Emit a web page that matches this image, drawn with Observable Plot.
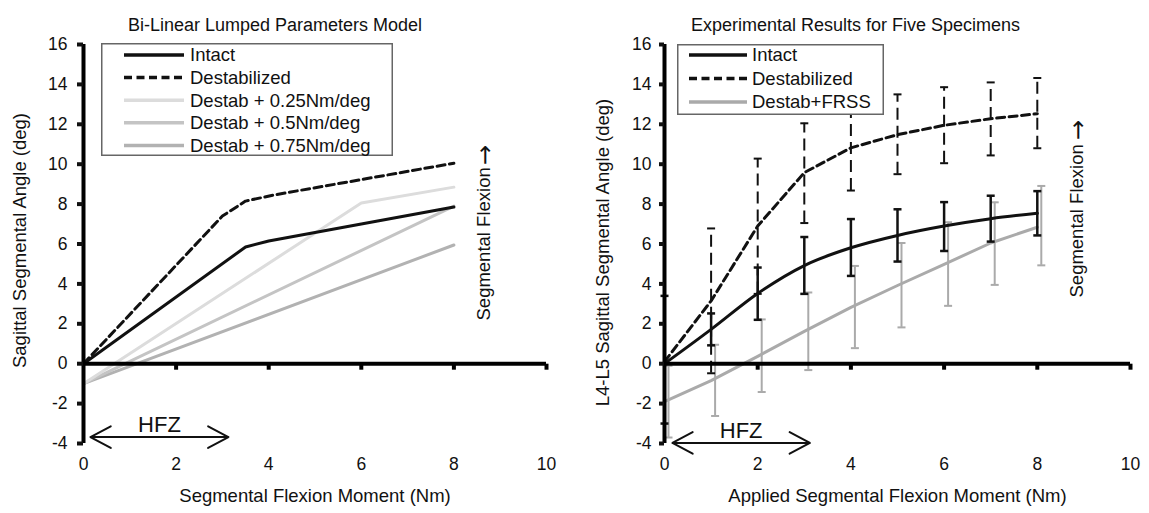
<!DOCTYPE html>
<html>
<head>
<meta charset="utf-8">
<script src="https://cdn.jsdelivr.net/npm/d3@7"></script>
<script src="https://cdn.jsdelivr.net/npm/@observablehq/plot@0.6"></script>
<style>
  body { margin: 0; background: #fff; }
  #wrap { position: relative; width: 1149px; height: 513px; overflow: hidden;
          font-family: "Liberation Sans", Arial, sans-serif; }
  #left { position: absolute; left: 0; top: 0; }
  #right { position: absolute; left: 574px; top: 0; }
  .legend { position: absolute; }
</style>
</head>
<body>
<div id="wrap">
  <div id="left"></div>
  <div id="right"></div>
</div>
<script>
// ---------- shared ticks ----------
const xTicks = [0, 2, 4, 6, 8, 10];
const yTicks = [-4, -2, 0, 2, 4, 6, 8, 10, 12, 14, 16];

// ---------- left panel: bi-linear model ----------
const modelIntactX = [0, 3.5, 4, 6, 8];
const modelIntactY = [0, 5.85, 6.15, 7.0, 7.85];
const modelDestabX = [0, 3, 3.5, 4.1, 8];
const modelDestabY = [0, 7.4, 8.15, 8.45, 10.05];
const modelD025X = [0, 6, 8];
const modelD025Y = [-1, 8.05, 8.85];
const modelD05X = [0, 8];
const modelD05Y = [-1, 7.9];
const modelD075X = [0, 8];
const modelD075Y = [-1, 5.95];

// ---------- right panel: experiments ----------
const moments = [0, 1, 2, 3, 4, 5, 6, 7, 8];
const intactMean = [0, 1.72, 3.52, 4.92, 5.81, 6.43, 6.9, 7.27, 7.54];
const intactHi   = [3.4, 2.52, 4.82, 6.35, 7.25, 7.74, 8.1, 8.42, 8.65];
const intactLo   = [-3.0, 0.92, 2.2, 3.5, 4.4, 5.12, 5.65, 6.12, 6.43];
const destabMean = [0.1, 3.15, 6.9, 9.58, 10.82, 11.48, 11.95, 12.28, 12.53];
const destabHi   = [0.1, 6.78, 10.28, 12.05, 12.95, 13.5, 13.86, 14.1, 14.32];
const destabLo   = [0.1, -0.48, 3.5, 7.05, 8.68, 9.5, 10.05, 10.44, 10.8];
const frssMean   = [-1.9, -0.85, 0.37, 1.62, 2.82, 3.92, 4.98, 6.05, 6.84];
const frssHi     = [-0.1, 0.95, 2.22, 3.57, 4.9, 6.05, 7.09, 8.09, 8.91];
const frssLo     = [-3.7, -2.62, -1.42, -0.32, 0.78, 1.82, 2.9, 3.95, 4.93];

// HFZ annotation (Nm range, arrow level, label level)
const hfzModel = [0.15, 3.13, -3.68, -3.05];
const hfzExp   = [0.17, 3.12, -3.97, -3.35];

const FONT = '"Liberation Sans", Arial, sans-serif';

const hSym = {draw(ctx, size) { const r = Math.sqrt(size / Math.PI); ctx.moveTo(-r, 0); ctx.lineTo(r, 0); }};
const vSym = {draw(ctx, size) { const r = Math.sqrt(size / Math.PI); ctx.moveTo(0, -r); ctx.lineTo(0, r); }};

function frameMarks(o) {
  return [
    Plot.ruleY([0], {x1: xTicks[0], x2: xTicks[xTicks.length - 1], stroke: "#000", strokeWidth: 4}),
    Plot.dot(xTicks.slice(1), {x: d => d, y: 0, symbol: vSym, r: 3, dy: 3, stroke: "#000", strokeWidth: 4, fill: "none"}),
    Plot.ruleX([0], {y1: yTicks[0], y2: yTicks[yTicks.length - 1], stroke: "#000", strokeWidth: 4}),
    Plot.axisY(yTicks, {label: null, tickSize: o.tickSize, tickPadding: o.tickPadding, strokeWidth: 4, fontSize: 17.5, tickFormat: d => String(d), color: "#111"}),
    Plot.axisX(xTicks, {label: null, tickSize: 0, tickPadding: 14, fontSize: 17.5, tickFormat: d => String(d), color: "#111"}),
    Plot.text([o.title], {frameAnchor: "top", textAnchor: "middle", dx: o.titleDx, dy: -25.8, fontSize: 18, text: d => d, fill: "#111"}),
    Plot.text([o.xLabel], {frameAnchor: "bottom", textAnchor: "middle", dy: 58, fontSize: 18.5, text: d => d, fill: "#111"}),
    Plot.text([o.yLabel], {frameAnchor: "left", textAnchor: "middle", dx: o.yLabelDx, dy: o.yLabelDy, rotate: -90, fontSize: 18.5, text: d => d, fill: "#111"}),
    Plot.text(["Segmental Flexion"], {frameAnchor: "right", textAnchor: "start", dx: o.flexDx, dy: o.flexBottomDy, rotate: -90, fontSize: 18.5, text: d => d, fill: "#111"}),
    Plot.text(["\u2192"], {frameAnchor: "right", textAnchor: "end", dx: o.flexDx + 1, dy: o.flexTopDy, rotate: -90, fontSize: 24, fontFamily: "DejaVu Sans", text: d => d, fill: "#111"}),
  ];
}

function hfzMarks(h) {
  const mid = (h[0] + h[1]) / 2;
  const a = [{x1: mid, x2: h[0], y: h[2]}, {x1: mid, x2: h[1], y: h[2]}];
  return [
    Plot.arrow(a, {x1: "x1", x2: "x2", y1: "y", y2: "y", bend: 0, headLength: 19, headAngle: 56, strokeWidth: 2, stroke: "#111"}),
    Plot.text([{x: mid, y: h[3]}], {x: "x", y: "y", text: () => "HFZ", fontSize: 22, fill: "#111"})
  ];
}

// ---------- left plot ----------
const leftSeries = [
  {name: "Destab + 0.75Nm/deg", xs: modelD075X, ys: modelD075Y, stroke: "#b2b2b2", w: 3, dash: null},
  {name: "Destab + 0.5Nm/deg",  xs: modelD05X,  ys: modelD05Y,  stroke: "#c4c4c4", w: 3, dash: null},
  {name: "Destab + 0.25Nm/deg", xs: modelD025X, ys: modelD025Y, stroke: "#dcdcdc", w: 3, dash: null},
  {name: "Destabilized", xs: modelDestabX, ys: modelDestabY, stroke: "#111", w: 3, dash: "8,4.5"},
  {name: "Intact", xs: modelIntactX, ys: modelIntactY, stroke: "#111", w: 3, dash: null},
];
const leftMarks = leftSeries.map(s =>
  Plot.line(s.xs.map((x, i) => ({x, y: s.ys[i]})), {x: "x", y: "y", stroke: s.stroke, strokeWidth: s.w, strokeDasharray: s.dash})
);

const leftPlot = Plot.plot({
  width: 574, height: 513,
  marginLeft: 83, marginRight: 28, marginTop: 44, marginBottom: 70,
  x: {domain: [0, 10], label: null}, y: {domain: [-4, 16], label: null},
  style: {fontFamily: FONT, background: "#fff", overflow: "visible"},
  marks: [
    ...leftMarks,
    ...frameMarks({title: "Bi-Linear Lumped Parameters Model", titleDx: -40,
      xLabel: "Segmental Flexion Moment (Nm)", yLabel: "Sagittal Segmental Angle (deg)",
      yLabelDx: -63, yLabelDy: -3.5, flexDx: -62, flexBottomDy: 76.5, flexTopDy: -99, tickSize: 6, tickPadding: 10}),
    ...hfzMarks(hfzModel)
  ]
});
document.getElementById("left").appendChild(leftPlot);

// ---------- right plot ----------
const exp = moments.map((m, i) => ({
  m,
  im: intactMean[i], ih: intactHi[i], il: intactLo[i],
  dm: destabMean[i], dh: destabHi[i], dl: destabLo[i],
  fm: frssMean[i], fh: frssHi[i], fl: frssLo[i]
}));
const destabBars = exp.filter(d => d.dh !== d.dl);

const rightPlot = Plot.plot({
  width: 575, height: 513,
  marginLeft: 90, marginRight: 19, marginTop: 44, marginBottom: 70,
  x: {domain: [0, 10], label: null}, y: {domain: [-4, 16], label: null},
  style: {fontFamily: FONT, background: "#fff", overflow: "visible"},
  marks: [
    // FRSS
    Plot.ruleX(exp, {x: "m", y1: "fl", y2: "fh", stroke: "#aaa", strokeWidth: 2, dx: 4}),
    Plot.dot(exp, {x: "m", y: "fh", symbol: hSym, r: 4, stroke: "#aaa", strokeWidth: 2, fill: "none", dx: 4}),
    Plot.dot(exp, {x: "m", y: "fl", symbol: hSym, r: 4, stroke: "#aaa", strokeWidth: 2, fill: "none", dx: 4}),
    Plot.line(exp, {x: "m", y: "fm", stroke: "#aaa", strokeWidth: 3}),
    // Destabilized
    Plot.ruleX(destabBars, {x: "m", y1: "dl", y2: "dh", stroke: "#111", strokeWidth: 2, strokeDasharray: "12,6"}),
    Plot.dot(destabBars, {x: "m", y: "dh", symbol: hSym, r: 4, stroke: "#111", strokeWidth: 2, fill: "none"}),
    Plot.dot(destabBars, {x: "m", y: "dl", symbol: hSym, r: 4, stroke: "#111", strokeWidth: 2, fill: "none"}),
    Plot.line(exp, {x: "m", y: "dm", stroke: "#111", strokeWidth: 3, strokeDasharray: "8,4.5"}),
    // Intact
    Plot.ruleX(exp, {x: "m", y1: "il", y2: "ih", stroke: "#111", strokeWidth: 2.5}),
    Plot.dot(exp, {x: "m", y: "ih", symbol: hSym, r: 4, stroke: "#111", strokeWidth: 2.5, fill: "none"}),
    Plot.dot(exp, {x: "m", y: "il", symbol: hSym, r: 4, stroke: "#111", strokeWidth: 2.5, fill: "none"}),
    Plot.line(exp, {x: "m", y: "im", stroke: "#111", strokeWidth: 3, curve: "monotone-x"}),
    ...frameMarks({title: "Experimental Results for Five Specimens", titleDx: -42,
      xLabel: "Applied Segmental Flexion Moment (Nm)", yLabel: "L4-L5 Sagittal Segmental Angle (deg)",
      yLabelDx: -61, yLabelDy: 8.5, flexDx: -53, flexBottomDy: 53.5, flexTopDy: -124, tickSize: 5, tickPadding: 8}),
    ...hfzMarks(hfzExp)
  ]
});
document.getElementById("right").appendChild(rightPlot);

// ---------- legends ----------
function legend(items, o) {
  const svg = d3.select("#wrap").append("svg")
    .attr("class", "legend")
    .style("left", o.left + "px").style("top", o.top + "px")
    .attr("width", o.width).attr("height", o.height);
  svg.append("rect").attr("x", 0.75).attr("y", 0.75)
    .attr("width", o.width - 1.5).attr("height", o.height - 1.5)
    .attr("fill", "#fff").attr("stroke", "#666").attr("stroke-width", 1.5);
  items.forEach((it, i) => {
    const y = o.row0 + i * o.rowStep;
    svg.append("line").attr("x1", o.lx1).attr("x2", o.lx2).attr("y1", y).attr("y2", y)
      .attr("stroke", it.stroke).attr("stroke-width", 3.5)
      .attr("stroke-dasharray", it.dash || null);
    svg.append("text").attr("x", o.tx).attr("y", y).attr("dy", "0.35em")
      .attr("font-family", FONT).attr("font-size", o.fontSize).attr("fill", "#111")
      .text(it.name);
  });
}
const leftLegendItems = [
  {name: "Intact", stroke: "#111"},
  {name: "Destabilized", stroke: "#111", dash: "8,4.5"},
  {name: "Destab + 0.25Nm/deg", stroke: "#dcdcdc"},
  {name: "Destab + 0.5Nm/deg", stroke: "#c4c4c4"},
  {name: "Destab + 0.75Nm/deg", stroke: "#b2b2b2"},
];
const rightLegendItems = [
  {name: "Intact", stroke: "#111"},
  {name: "Destabilized", stroke: "#111", dash: "8,4.5"},
  {name: "Destab+FRSS", stroke: "#aaa"},
];
legend(leftLegendItems, {left: 101, top: 43, width: 292, height: 113, row0: 12, rowStep: 22.6, lx1: 23, lx2: 83, tx: 89, fontSize: 18.5});
legend(rightLegendItems, {left: 677, top: 44, width: 207, height: 71, row0: 11, rowStep: 23.5, lx1: 12, lx2: 70, tx: 75, fontSize: 18.5});
</script>
</body>
</html>
